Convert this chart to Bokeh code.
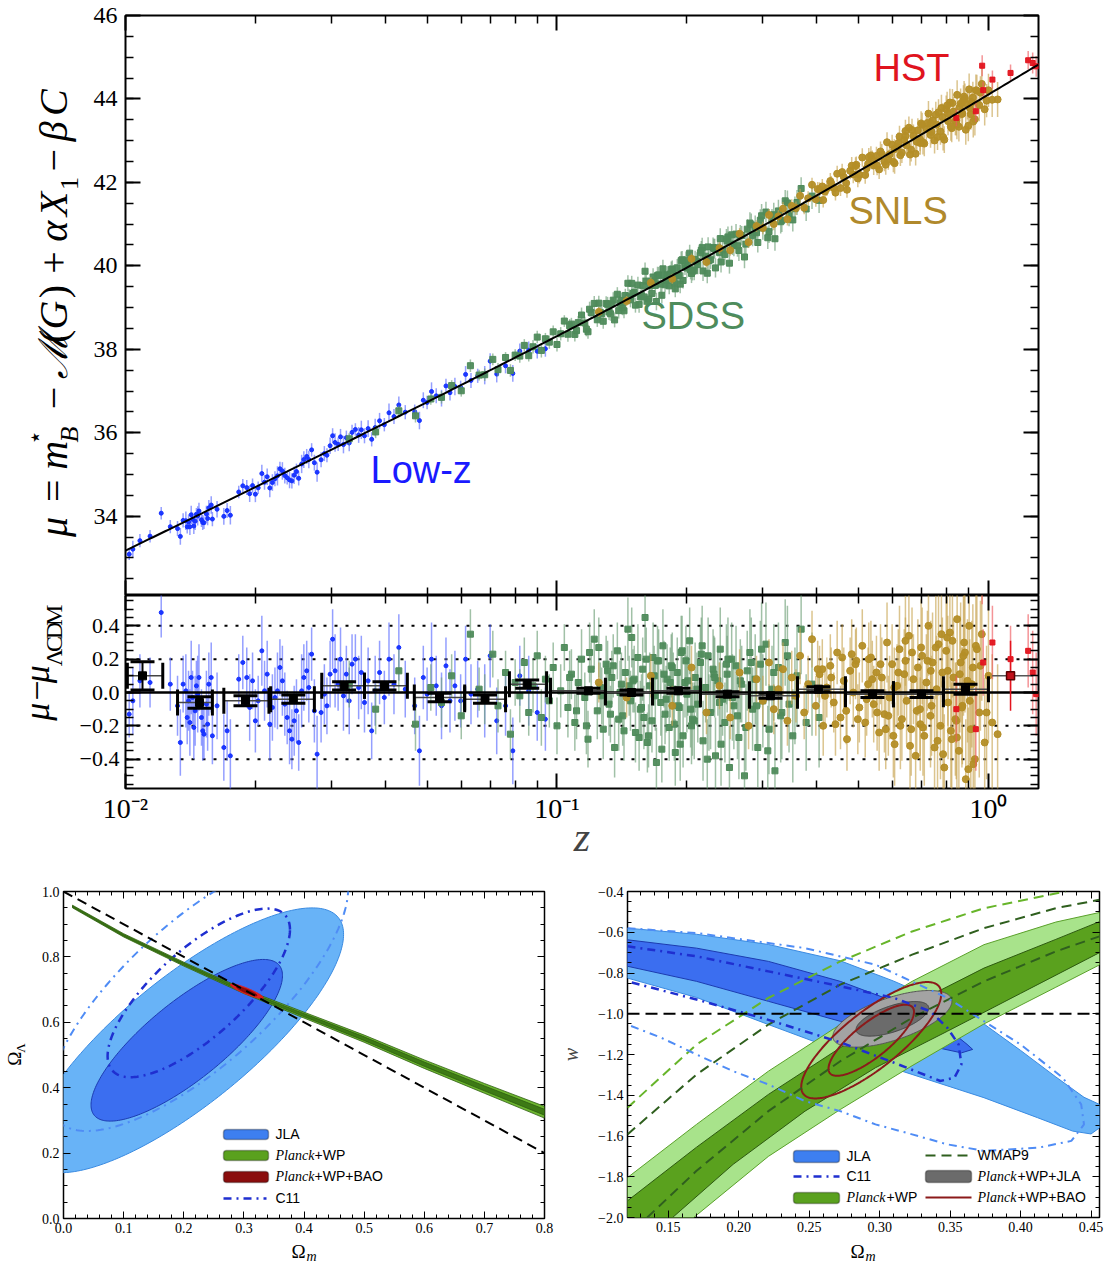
import numpy as np
from bokeh.plotting import figure
from bokeh.models import (Range1d, FixedTicker, LinearAxis, CustomJSTickFormatter,
                          Label, Span, BoxAnnotation, ColumnDataSource)
from bokeh.layouts import column, row
from bokeh.embed import file_html
from bokeh.resources import INLINE

SERIF = "Liberation Serif"
SANS = "Liberation Sans"

# ------------------------------------------------------------------ data
# Hubble-diagram residuals (mu - mu_LCDM) per survey
lowz_z = [0.0102, 0.0104, 0.0108, 0.0114, 0.0121, 0.0132, 0.0134, 0.0136, 0.0138, 0.0139,
          0.0140, 0.0141, 0.0142, 0.0143, 0.0144, 0.0145, 0.0146, 0.0147, 0.0148, 0.0150,
          0.0151, 0.0152, 0.0154, 0.0155, 0.0156, 0.0158, 0.0159, 0.0169, 0.0172, 0.0175,
          0.0187, 0.0191, 0.0194, 0.0197, 0.0200, 0.0203, 0.0207, 0.0210, 0.0213, 0.0216,
          0.0219, 0.0222, 0.0225, 0.0228, 0.0231, 0.0234, 0.0237, 0.0240, 0.0243, 0.0246,
          0.0249, 0.0252, 0.0256, 0.0259, 0.0263, 0.0266, 0.0270, 0.0274, 0.0278, 0.0289,
          0.0293, 0.0298, 0.0302, 0.0306, 0.0311, 0.0315, 0.0320, 0.0325, 0.0330, 0.0335,
          0.0341, 0.0347, 0.0352, 0.0358, 0.0365, 0.0372, 0.0379, 0.0388, 0.0398, 0.0408,
          0.0419, 0.0430, 0.0468, 0.0480, 0.0490, 0.0500, 0.0512, 0.0525, 0.0540, 0.0553,
          0.0565, 0.0580, 0.0598, 0.0614, 0.0632, 0.0655, 0.0680, 0.0700, 0.0725, 0.0760,
          0.0790, 0.0820, 0.0860, 0.0900, 0.0940, 0.0127, 0.0163, 0.0183, 0.0284, 0.0445]
lowz_res = [-0.13, -0.05, 0.07, 0.06, 0.48, -0.08, -0.30, 0.05, 0.01, -0.15,
            -0.05, -0.18, 0.09, -0.03, -0.21, -0.11, 0.04, -0.01, 0.09, -0.15,
            -0.23, -0.25, -0.07, -0.19, 0.05, 0.09, -0.26, -0.33, -0.23, -0.38,
            0.18, 0.09, -0.09, 0.07, -0.17, -0.05, 0.25, 0.01, 0.11, -0.19,
            -0.09, -0.03, 0.01, 0.15, 0.07, -0.07, -0.15, -0.23, -0.28, -0.17,
            -0.11, -0.30, 0.01, 0.09, 0.13, 0.03, 0.23, -0.11, -0.37, -0.01,
            -0.08, 0.11, 0.32, 0.13, 0.05, 0.20, -0.02, 0.11, -0.05, 0.17,
            0.20, 0.03, 0.12, -0.06, 0.07, -0.23, 0.01, 0.12, -0.03, 0.20,
            0.05, 0.27, -0.08, -0.35, 0.09, -0.01, 0.20, 0.04, -0.08, 0.16,
            -0.05, 0.04, -0.05, 0.20, -0.01, 0.02, -0.05, 0.22, -0.17, -0.08,
            -0.35, 0.10, 0.01, -0.12, -0.16, 0.05, -0.08, 0.08, -0.12, 0.02]
lowz_err = [0.14, 0.20, 0.16, 0.15, 0.15, 0.18, 0.20, 0.17, 0.22, 0.16,
            0.18, 0.20, 0.22, 0.16, 0.19, 0.21, 0.15, 0.23, 0.20, 0.17,
            0.18, 0.15, 0.20, 0.16, 0.19, 0.21, 0.17, 0.20, 0.18, 0.22,
            0.16, 0.18, 0.20, 0.17, 0.19, 0.15, 0.21, 0.18, 0.20, 0.22,
            0.20, 0.18, 0.23, 0.17, 0.21, 0.19, 0.16, 0.20, 0.18, 0.21,
            0.19, 0.17, 0.22, 0.20, 0.18, 0.21, 0.16, 0.19, 0.23, 0.18,
            0.17, 0.20, 0.18, 0.22, 0.16, 0.19, 0.21, 0.17, 0.20, 0.18,
            0.15, 0.19, 0.22, 0.18, 0.20, 0.17, 0.21, 0.19, 0.16, 0.22,
            0.18, 0.20, 0.17, 0.21, 0.19, 0.16, 0.22, 0.18, 0.20, 0.17,
            0.19, 0.21, 0.16, 0.20, 0.18, 0.17, 0.22, 0.19, 0.20, 0.18,
            0.20, 0.18, 0.21, 0.17, 0.19, 0.16, 0.20, 0.15, 0.18, 0.17]

sdss_z = [0.033, 0.038, 0.043, 0.047, 0.051, 0.054, 0.057, 0.060, 0.063, 0.066,
          0.068, 0.071, 0.073, 0.076, 0.078, 0.080, 0.082, 0.084, 0.086, 0.088,
          0.090, 0.092, 0.094, 0.096, 0.098, 0.100, 0.102, 0.104, 0.106, 0.108,
          0.110, 0.112, 0.114, 0.116, 0.118, 0.120, 0.122, 0.124, 0.126, 0.128,
          0.130, 0.132, 0.134, 0.136, 0.138, 0.140, 0.142, 0.144, 0.146, 0.148,
          0.150, 0.152, 0.154, 0.156, 0.158, 0.160, 0.162, 0.164, 0.166, 0.168,
          0.170, 0.172, 0.174, 0.176, 0.178, 0.180, 0.182, 0.184, 0.186, 0.188,
          0.190, 0.192, 0.194, 0.196, 0.198, 0.200, 0.203, 0.206, 0.209, 0.212,
          0.215, 0.218, 0.221, 0.224, 0.227, 0.230, 0.233, 0.236, 0.239, 0.242,
          0.245, 0.248, 0.251, 0.254, 0.257, 0.260, 0.264, 0.268, 0.272, 0.276,
          0.280, 0.284, 0.288, 0.292, 0.296, 0.300, 0.305, 0.310, 0.315, 0.320,
          0.326, 0.332, 0.338, 0.345, 0.352, 0.360, 0.368, 0.378, 0.390, 0.405,
          0.107, 0.117, 0.125, 0.133, 0.141, 0.149, 0.157, 0.163, 0.171, 0.179,
          0.185, 0.193, 0.201, 0.208, 0.216, 0.223, 0.231, 0.238, 0.249, 0.262,
          0.111, 0.119, 0.127, 0.135, 0.143, 0.151, 0.159, 0.167, 0.175, 0.183,
          0.191, 0.199, 0.205, 0.211, 0.217, 0.225, 0.232, 0.240, 0.247, 0.255,
          0.131, 0.139, 0.147, 0.155, 0.161, 0.169, 0.177, 0.187, 0.195, 0.204,
          0.266, 0.274, 0.282, 0.290, 0.298, 0.308, 0.318, 0.330, 0.342, 0.356]
sdss_res = [0.05, -0.10, 0.13, -0.19, 0.03, -0.06, 0.10, -0.14, 0.35, 0.02,
            -0.04, 0.23, -0.08, 0.12, -0.25, 0.06, -0.02, 0.18, -0.12, 0.04,
            0.22, -0.15, 0.08, -0.05, 0.15, -0.20, 0.01, 0.27, -0.09, 0.11,
            -0.18, 0.06, 0.20, -0.03, -0.28, 0.14, 0.32, -0.11, 0.03, -0.22,
            0.17, -0.07, 0.09, -0.33, 0.25, 0.00, -0.14, 0.12, 0.38, -0.05,
            0.07, -0.24, 0.21, -0.10, 0.14, 0.45, -0.30, 0.04, -0.17, 0.10,
            -0.42, 0.19, -0.06, 0.28, -0.13, 0.08, -0.21, 0.16, 0.02, -0.36,
            0.12, -0.09, 0.24, -0.26, 0.06, -0.01, 0.31, -0.16, 0.09, -0.07,
            0.18, -0.29, 0.03, 0.22, -0.12, 0.14, -0.38, 0.07, 0.26, -0.04,
            -0.18, 0.11, -0.45, 0.20, -0.08, 0.16, -0.27, 0.05, -0.50, 0.13,
            0.24, -0.10, 0.08, -0.33, 0.17, -0.05, 0.29, -0.22, 0.02, -0.47,
            0.15, -0.12, 0.30, -0.07, -0.26, 0.10, 0.38, -0.18, 0.05, -0.15,
            0.09, -0.20, 0.27, -0.13, 0.05, 0.33, -0.09, -0.26, 0.19, -0.04,
            0.15, -0.31, 0.07, -0.17, 0.23, -0.40, 0.11, -0.06, 0.20, -0.14,
            -0.11, 0.24, -0.02, 0.16, -0.23, 0.08, -0.15, 0.21, -0.34, 0.06,
            -0.08, 0.19, -0.20, 0.02, 0.28, -0.12, 0.09, -0.31, 0.17, -0.03,
            0.13, -0.16, 0.04, -0.27, 0.20, -0.02, 0.11, -0.19, 0.25, -0.10,
            0.07, -0.21, 0.18, -0.08, 0.26, -0.35, 0.12, -0.14, 0.22, -0.02]
sdss_err = [0.14, 0.15, 0.13, 0.16, 0.14, 0.15, 0.13, 0.14, 0.15, 0.13,
            0.15, 0.14, 0.16, 0.13, 0.15, 0.14, 0.16, 0.15, 0.14, 0.16,
            0.15, 0.17, 0.14, 0.16, 0.15, 0.17, 0.16, 0.14, 0.18, 0.15,
            0.17, 0.16, 0.18, 0.15, 0.17, 0.16, 0.18, 0.17, 0.15, 0.18,
            0.17, 0.19, 0.16, 0.18, 0.17, 0.19, 0.18, 0.16, 0.19, 0.18,
            0.19, 0.18, 0.20, 0.17, 0.19, 0.21, 0.18, 0.20, 0.19, 0.18,
            0.21, 0.19, 0.20, 0.22, 0.18, 0.21, 0.20, 0.19, 0.22, 0.20,
            0.21, 0.20, 0.22, 0.19, 0.21, 0.23, 0.20, 0.22, 0.21, 0.23,
            0.22, 0.24, 0.21, 0.23, 0.22, 0.24, 0.23, 0.21, 0.25, 0.22,
            0.24, 0.23, 0.25, 0.22, 0.26, 0.24, 0.25, 0.23, 0.27, 0.24,
            0.26, 0.25, 0.27, 0.24, 0.26, 0.28, 0.25, 0.27, 0.26, 0.29,
            0.27, 0.28, 0.26, 0.29, 0.28, 0.30, 0.27, 0.29, 0.31, 0.30,
            0.16, 0.17, 0.18, 0.17, 0.19, 0.18, 0.20, 0.19, 0.21, 0.20,
            0.21, 0.22, 0.21, 0.23, 0.22, 0.24, 0.23, 0.24, 0.25, 0.26,
            0.17, 0.18, 0.17, 0.19, 0.18, 0.20, 0.19, 0.21, 0.20, 0.21,
            0.22, 0.21, 0.23, 0.22, 0.24, 0.23, 0.24, 0.25, 0.24, 0.26,
            0.18, 0.19, 0.18, 0.20, 0.19, 0.21, 0.20, 0.22, 0.21, 0.23,
            0.25, 0.26, 0.27, 0.26, 0.28, 0.27, 0.29, 0.28, 0.30, 0.29]

snls_z = [0.125, 0.145, 0.165, 0.185, 0.205, 0.222, 0.238, 0.252, 0.265, 0.278,
          0.290, 0.300, 0.310, 0.318, 0.326, 0.334, 0.342, 0.350, 0.358, 0.366,
          0.374, 0.382, 0.390, 0.398, 0.406, 0.414, 0.422, 0.430, 0.438, 0.446,
          0.454, 0.462, 0.470, 0.478, 0.486, 0.494, 0.502, 0.510, 0.518, 0.526,
          0.534, 0.542, 0.550, 0.558, 0.566, 0.574, 0.582, 0.590, 0.598, 0.606,
          0.614, 0.622, 0.630, 0.638, 0.646, 0.654, 0.662, 0.670, 0.678, 0.686,
          0.694, 0.702, 0.710, 0.718, 0.726, 0.734, 0.742, 0.750, 0.758, 0.766,
          0.774, 0.782, 0.790, 0.798, 0.806, 0.814, 0.822, 0.830, 0.838, 0.846,
          0.854, 0.862, 0.870, 0.878, 0.886, 0.894, 0.902, 0.910, 0.920, 0.930,
          0.940, 0.952, 0.965, 0.980, 1.000, 1.020, 1.050, 0.412, 0.468, 0.528,
          0.586, 0.642, 0.705, 0.755, 0.805, 0.845, 0.875, 0.905, 0.605, 0.695,
          0.432, 0.492, 0.552, 0.625, 0.665, 0.735, 0.785, 0.825, 0.868, 0.915,
          0.402, 0.442, 0.482, 0.522, 0.562, 0.602, 0.642, 0.682, 0.722, 0.762,
          0.802, 0.842, 0.882, 0.922, 0.958, 0.418, 0.458, 0.498, 0.538, 0.578,
          0.618, 0.658, 0.698, 0.738, 0.778, 0.818, 0.858, 0.898, 0.935, 0.990]
snls_res = [0.06, -0.03, 0.10, -0.08, 0.15, -0.12, 0.04, -0.15, 0.12, -0.20,
            0.08, -0.05, 0.18, -0.10, 0.02, 0.14, -0.17, 0.09, -0.02, 0.22,
            -0.12, 0.05, 0.32, -0.08, 0.11, -0.20, 0.03, 0.16, -0.06, 0.24,
            -0.15, 0.07, -0.28, 0.13, 0.00, 0.19, -0.09, 0.28, -0.18, 0.05,
            0.21, -0.07, 0.12, -0.24, 0.09, -0.13, 0.30, -0.03, 0.17, -0.31,
            0.04, 0.26, -0.16, 0.11, -0.05, 0.34, -0.22, 0.08, -0.38, 0.15,
            -0.10, 0.22, -0.26, 0.06, 0.40, -0.14, 0.18, -0.33, 0.02, 0.29,
            -0.20, 0.12, -0.45, 0.25, -0.06, 0.36, -0.28, 0.09, -0.16, 0.44,
            -0.35, 0.18, -0.08, 0.30, -0.52, 0.07, 0.40, -0.22, 0.15, -0.40,
            0.26, -0.12, 0.35, -0.30, 0.10, -0.18, -0.25, 0.14, -0.11, 0.20,
            -0.14, 0.19, -0.21, 0.27, 0.13, -0.27, 0.22, -0.05, 0.03, -0.19,
            0.09, 0.17, -0.12, -0.20, 0.24, 0.13, -0.37, 0.31, -0.09, 0.05,
            0.14, -0.19, 0.23, -0.04, 0.17, -0.26, 0.31, -0.11, 0.19, -0.29,
            0.33, -0.17, 0.24, -0.43, 0.16, -0.02, 0.21, -0.16, 0.08, -0.22,
            0.12, -0.32, 0.27, -0.08, 0.35, -0.23, 0.11, -0.46, 0.28, -0.12]
snls_err = [0.12, 0.12, 0.13, 0.12, 0.13, 0.13, 0.14, 0.13, 0.14, 0.14,
            0.14, 0.15, 0.14, 0.15, 0.15, 0.16, 0.15, 0.16, 0.16, 0.17,
            0.16, 0.17, 0.17, 0.18, 0.17, 0.18, 0.18, 0.19, 0.18, 0.19,
            0.19, 0.20, 0.19, 0.20, 0.21, 0.20, 0.21, 0.22, 0.21, 0.22,
            0.22, 0.23, 0.22, 0.23, 0.24, 0.23, 0.24, 0.25, 0.24, 0.25,
            0.25, 0.26, 0.25, 0.27, 0.26, 0.27, 0.28, 0.27, 0.28, 0.29,
            0.28, 0.29, 0.30, 0.29, 0.30, 0.31, 0.30, 0.31, 0.32, 0.31,
            0.32, 0.33, 0.32, 0.33, 0.34, 0.33, 0.34, 0.35, 0.34, 0.35,
            0.35, 0.36, 0.35, 0.37, 0.36, 0.37, 0.38, 0.37, 0.38, 0.39,
            0.38, 0.39, 0.40, 0.39, 0.40, 0.41, 0.42, 0.18, 0.20, 0.22,
            0.24, 0.26, 0.29, 0.31, 0.33, 0.35, 0.36, 0.37, 0.24, 0.28,
            0.18, 0.21, 0.23, 0.26, 0.27, 0.30, 0.32, 0.34, 0.36, 0.38,
            0.17, 0.19, 0.21, 0.22, 0.24, 0.25, 0.27, 0.28, 0.30, 0.31,
            0.33, 0.35, 0.36, 0.38, 0.39, 0.18, 0.20, 0.21, 0.23, 0.24,
            0.26, 0.27, 0.29, 0.30, 0.32, 0.34, 0.35, 0.37, 0.38, 0.40]

hst_z = [0.8425, 0.9348, 0.9723, 0.9670, 1.0213, 1.1250, 1.2360, 1.2660, 1.2900]
hst_res = [-0.10, -0.22, 0.18, 0.78, 0.30, 0.20, 0.25, 0.12, -0.01]
hst_err = [0.20, 0.25, 0.20, 0.25, 0.22, 0.20, 0.22, 0.25, 0.25]

# binned residuals (black squares, last one = HST bin)
bin_z = [0.01095, 0.01484, 0.01897, 0.02449, 0.03211, 0.03983, 0.05343, 0.0681, 0.0853,
         0.1183, 0.1488, 0.1912, 0.2484, 0.3124, 0.4036, 0.5384, 0.6995, 0.8845, 1.125]
bin_lo = [0.0101, 0.0132, 0.0169, 0.0217, 0.0285, 0.0358, 0.0467, 0.0611, 0.0776,
          0.0966, 0.1295, 0.1665, 0.2150, 0.2793, 0.3609, 0.4662, 0.6023, 0.7864, 1.02]
bin_hi = [0.0122, 0.0159, 0.0215, 0.0274, 0.0358, 0.0450, 0.0611, 0.0760, 0.0946,
          0.1295, 0.1665, 0.2150, 0.2793, 0.3609, 0.4662, 0.6023, 0.7864, 1.0000, 1.27]
bin_res = [0.10, -0.06, -0.05, -0.04, 0.04, 0.04, -0.03, -0.04, 0.05,
           0.01, 0.00, 0.01, -0.01, -0.02, 0.02, -0.01, -0.01, 0.02, 0.10]
bin_err = [0.085, 0.035, 0.030, 0.025, 0.025, 0.025, 0.025, 0.025, 0.025,
           0.015, 0.015, 0.015, 0.015, 0.015, 0.015, 0.020, 0.020, 0.030, 0.21]

# ---- Omega_m / Omega_Lambda panel (Gaussian contour summaries)
jla_ol_center = [0.205, 0.545]
jla_ol_sigma = [0.105, 0.163]
jla_ol_rho = 0.80
c11_ol_center = [0.225, 0.69]
c11_ol_sigma = [0.100, 0.170]
c11_ol_rho = 0.75
bao_ol_center = [0.305, 0.695]
bao_ol_sigma = [0.011, 0.009]
bao_ol_rho = -0.90
planck_ol_om = [0.015, 0.1, 0.2, 0.3, 0.4, 0.5, 0.6, 0.7, 0.8]
planck_ol_mid = [0.954, 0.866, 0.778, 0.695, 0.622, 0.550, 0.472, 0.398, 0.325]
planck_ol_hw2 = [0.004, 0.005, 0.006, 0.007, 0.009, 0.011, 0.013, 0.015, 0.018]
planck_ol_hw1 = [0.002, 0.0025, 0.003, 0.0035, 0.0045, 0.0055, 0.0065, 0.0075, 0.009]
flat_om = [0.0, 0.8]
flat_ol = [1.0, 0.2]
DCHI2 = [2.30, 6.17]

# ---- Omega_m / w panel
jla_w2_up_om = [0.121, 0.17, 0.221, 0.272, 0.31, 0.348, 0.374, 0.40, 0.425, 0.445, 0.456]
jla_w2_up = [-0.58, -0.61, -0.66, -0.74, -0.84, -0.955, -1.05, -1.18, -1.31, -1.41, -1.445]
jla_w2_lo_om = [0.121, 0.17, 0.221, 0.272, 0.323, 0.374, 0.412, 0.437, 0.45, 0.456]
jla_w2_lo = [-0.825, -0.92, -1.053, -1.184, -1.298, -1.412, -1.51, -1.576, -1.59, -1.56]
jla_w1_up_om = [0.121, 0.17, 0.221, 0.272, 0.31, 0.336, 0.353, 0.362, 0.366]
jla_w1_up = [-0.637, -0.678, -0.743, -0.841, -0.939, -1.02, -1.10, -1.15, -1.175]
jla_w1_lo_om = [0.121, 0.17, 0.221, 0.272, 0.31, 0.336, 0.358, 0.366]
jla_w1_lo = [-0.767, -0.841, -0.939, -1.037, -1.118, -1.159, -1.192, -1.175]

planck_w2_up_om = [0.121, 0.170, 0.221, 0.272, 0.323, 0.374, 0.425, 0.456]
planck_w2_up = [-1.804, -1.543, -1.282, -1.053, -0.841, -0.661, -0.550, -0.503]
planck_w2_lo_om = [0.121, 0.168, 0.221, 0.272, 0.323, 0.374, 0.425, 0.456]
planck_w2_lo = [-2.0, -2.0, -1.70, -1.47, -1.255, -1.05, -0.87, -0.76]
planck_w1_up_om = [0.121, 0.170, 0.221, 0.272, 0.323, 0.374, 0.425, 0.456]
planck_w1_up = [-1.918, -1.655, -1.396, -1.167, -0.955, -0.776, -0.635, -0.548]
planck_w1_lo_om = [0.121, 0.153, 0.196, 0.247, 0.297, 0.348, 0.40, 0.456]
planck_w1_lo = [-2.0, -2.0, -1.739, -1.478, -1.265, -1.086, -0.90, -0.70]

wmap_1_up_om = [0.121, 0.17, 0.221, 0.272, 0.323, 0.374, 0.425, 0.456]
wmap_1_up = [-1.592, -1.298, -1.053, -0.857, -0.71, -0.58, -0.482, -0.441]
wmap_2_up_om = [0.121, 0.17, 0.221, 0.272, 0.323, 0.374, 0.432]
wmap_2_up = [-1.461, -1.151, -0.922, -0.743, -0.596, -0.482, -0.40]
wmap_1_lo_om = [0.135, 0.17, 0.221, 0.272, 0.323, 0.374, 0.425, 0.456]
wmap_1_lo = [-2.0, -1.771, -1.478, -1.233, -1.02, -0.841, -0.694, -0.62]

c11_w1_om = [0.121, 0.17, 0.221, 0.272, 0.31, 0.336, 0.348, 0.356, 0.358, 0.353,
             0.343, 0.31, 0.272, 0.221, 0.17, 0.121]
c11_w1 = [-0.669, -0.718, -0.792, -0.865, -0.922, -0.988, -1.069, -1.151, -1.249, -1.314,
          -1.33, -1.24, -1.14, -1.03, -0.93, -0.841]
c11_w2_om = [0.121, 0.17, 0.247, 0.297, 0.348, 0.40, 0.43, 0.443, 0.445, 0.436, 0.413,
             0.374, 0.348, 0.323, 0.297, 0.272, 0.247, 0.221, 0.196, 0.17, 0.145, 0.121]
c11_w2 = [-0.58, -0.604, -0.678, -0.759, -0.922, -1.151, -1.314, -1.445, -1.543, -1.624, -1.657,
          -1.673, -1.641, -1.592, -1.543, -1.478, -1.429, -1.347, -1.282, -1.2, -1.118, -1.053]

comb_w_center = [0.309, -1.025]
comb_w_sigma = [0.017, 0.056]
comb_w_rho = 0.62
bao_w_center = [0.294, -1.13]
bao_w_sigma = [0.020, 0.115]
bao_w_rho = 0.80
w_lcdm = -1.0

# ------------------------------------------------------------------ helpers
def mu_lcdm(z, om=0.295, h0=70.0):
    z = np.asarray(z, dtype=float)
    grid = np.linspace(0.0, 1.5, 6001)
    inv_e = 1.0 / np.sqrt(om * (1 + grid) ** 3 + 1 - om)
    dc = np.concatenate([[0.0], np.cumsum(0.5 * (inv_e[1:] + inv_e[:-1]) * np.diff(grid))])
    dl = (1 + z) * np.interp(z, grid, dc) * 299792.458 / h0
    return 5 * np.log10(dl) + 25


def gauss_contour(c, s, rho, k, n=240):
    cov = np.array([[s[0] ** 2, rho * s[0] * s[1]], [rho * s[0] * s[1], s[1] ** 2]])
    L = np.linalg.cholesky(cov)
    t = np.linspace(0, 2 * np.pi, n)
    pts = np.sqrt(k) * (L @ np.vstack([np.cos(t), np.sin(t)]))
    return pts[0] + c[0], pts[1] + c[1]


def base_fig(**kw):
    p = figure(output_backend="svg", toolbar_location=None, **kw)
    p.grid.visible = False
    p.outline_line_color = "black"
    p.outline_line_width = 2
    p.outline_line_alpha = 1.0
    p.background_fill_color = "white"
    p.border_fill_color = "white"
    return p


def label_fig(w, h, x0, y0):
    """blank strip whose data units are the page pixels (y grows downwards)"""
    p = figure(width=w, height=h, x_range=Range1d(x0, x0 + w), y_range=Range1d(y0 + h, y0),
               min_border=0, x_axis_location=None, y_axis_location=None,
               output_backend="svg", toolbar_location=None)
    p.grid.visible = False
    p.outline_line_color = None
    p.background_fill_color = "white"
    p.border_fill_color = "white"
    return p


def set_axis(ax, ticks, minor, code=None, size="22px", tin=15, tmin=8, lw=2, standoff=8):
    ax.ticker = FixedTicker(ticks=ticks, minor_ticks=minor)
    ax.axis_line_color = None
    ax.major_tick_in = tin
    ax.major_tick_out = 0
    ax.minor_tick_in = tmin
    ax.minor_tick_out = 0
    ax.major_tick_line_width = lw
    ax.minor_tick_line_width = max(1, lw * 0.75)
    ax.major_tick_line_color = "black"
    ax.minor_tick_line_color = "black"
    if code is None:
        ax.formatter = CustomJSTickFormatter(code="return ''")
        ax.major_label_text_font_size = "0px"
        ax.major_label_standoff = 0
    else:
        ax.formatter = CustomJSTickFormatter(code=code)
        ax.major_label_text_font = SERIF
        ax.major_label_text_font_size = size
        ax.major_label_text_color = "black"
        ax.major_label_standoff = standoff


def mirror(p, xt, xm, yt, ym, **kw):
    ra = LinearAxis()
    p.add_layout(ra, "right")
    set_axis(ra, yt, ym, None, **kw)
    ta = LinearAxis()
    p.add_layout(ta, "above")
    set_axis(ta, xt, xm, None, **kw)


IDENT = lambda v: v
BASE_SHIFT = 0.37  # Bokeh draws an "alphabetic" label this many em lower than asked


def add_text(p, fx, fy, px, py, text, size, font=SANS, style="normal", color="black",
             angle=0.0, align="left"):
    off = BASE_SHIFT * size
    if angle == 0.0:
        py = py - off
    else:
        px = px - off
    p.add_layout(Label(x=fx(px), y=fy(py), text=text, text_font=font,
                       text_font_size="%dpx" % size, text_font_style=style,
                       text_color=color, angle=angle, text_align=align,
                       text_baseline="alphabetic"))


MINUS = "return tick.toFixed(%d).replace('-', '\\u2212')"
R90 = np.pi / 2

# ------------------------------------------------------------------ top: Hubble diagram
ZMAX = 1.306
XR = Range1d(0.01, ZMAX)
LX0, LX1 = -2.0, np.log10(ZMAX)
fx_top = lambda px: 10 ** (LX0 + (px - 125) / 913 * (LX1 - LX0))
fy_top = lambda py: 32.1 + (595 - py) / 580 * 13.9

xt_log = [0.01, 0.1, 1.0]
xm_log = [k * 0.01 for k in range(2, 10)] + [k * 0.1 for k in range(2, 10)]
yt_top = [34, 36, 38, 40, 42, 44, 46]
ym_top = list(np.arange(32.5, 46.0, 0.5))

top = base_fig(x_axis_type="log", x_range=XR, y_range=Range1d(32.1, 46.0),
               frame_width=913, frame_height=580, min_border_left=37, min_border_right=74,
               min_border_top=15, min_border_bottom=0)
set_axis(top.xaxis[0], xt_log, xm_log, None)
set_axis(top.yaxis[0], yt_top, ym_top, "return tick.toFixed(0)", size="24px", standoff=8)
mirror(top, xt_log, xm_log, yt_top, ym_top)

res = base_fig(x_axis_type="log", x_range=XR, y_range=Range1d(-0.576, 0.582),
               frame_width=913, frame_height=193, min_border_left=49, min_border_right=74,
               min_border_top=0, min_border_bottom=80)
set_axis(res.xaxis[0], xt_log, xm_log,
         "return tick < 0.05 ? '10\\u207b\\u00b2' : (tick < 0.5 ? '10\\u207b\\u00b9' : '10\\u2070')",
         size="28px", standoff=4)
res.xaxis[0].axis_label = "z"
res.xaxis[0].axis_label_text_font = SERIF
res.xaxis[0].axis_label_text_font_style = "italic"
res.xaxis[0].axis_label_text_font_size = "42px"
res.xaxis[0].axis_label_standoff = -13
yt_res = [-0.4, -0.2, 0.0, 0.2, 0.4]
ym_res = list(np.round(np.arange(-0.55, 0.56, 0.05), 2))
set_axis(res.yaxis[0], yt_res, ym_res, MINUS % 1, size="22px", standoff=6)
mirror(res, xt_log, xm_log, yt_res, ym_res)

for lvl in [-0.4, -0.2, 0.2, 0.4]:
    res.add_layout(Span(location=lvl, dimension="width", line_color="black",
                        line_dash="3 8", line_width=2, level="underlay"))

surveys = [
    (lowz_z, lowz_res, lowz_err, "#1430ff", "#5b6bff", "circle", 4),
    (sdss_z, sdss_res, sdss_err, "#4f8b5b", "#6f9f78", "square", 6),
    (snls_z, snls_res, snls_err, "#b48e27", "#c8a452", "circle", 7),
    (hst_z, hst_res, hst_err, "#e3141e", "#ee5a60", "square", 5),
]
for zz, rr, ee, col, ecol, mk, sz in surveys:
    zz = np.array(zz); rr = np.array(rr); ee = np.array(ee)
    mu = mu_lcdm(zz) + rr
    src = ColumnDataSource(dict(z=zz, mu=mu, mlo=mu - ee, mhi=mu + ee,
                                r=rr, rlo=rr - ee, rhi=rr + ee))
    top.segment(x0="z", y0="mlo", x1="z", y1="mhi", source=src, line_color=ecol,
                line_alpha=0.65, line_width=1.5)
    top.scatter(x="z", y="mu", source=src, marker=mk, size=sz, fill_color=col,
                line_color=col, fill_alpha=0.95)
    res.segment(x0="z", y0="rlo", x1="z", y1="rhi", source=src, line_color=ecol,
                line_alpha=0.65, line_width=1.5)
    res.scatter(x="z", y="r", source=src, marker=mk, size=sz, fill_color=col,
                line_color=col, fill_alpha=0.95)

zline = np.logspace(-2, np.log10(ZMAX), 300)
top.line(zline, mu_lcdm(zline), line_color="black", line_width=2)
res.line([0.01, ZMAX], [0.0, 0.0], line_color="black", line_width=2.5)

# binned points
nb = len(bin_z) - 1
bsrc = ColumnDataSource(dict(z=bin_z[:nb], lo=bin_lo[:nb], hi=bin_hi[:nb], r=bin_res[:nb],
                             rlo=[r - e for r, e in zip(bin_res[:nb], bin_err[:nb])],
                             rhi=[r + e for r, e in zip(bin_res[:nb], bin_err[:nb])]))
res.segment(x0="lo", y0="r", x1="hi", y1="r", source=bsrc, line_color="#444444", line_width=1.5)
res.scatter(x="lo", y="r", source=bsrc, marker="dash", angle=np.pi / 2, size=26,
            line_color="black", line_width=3)
res.scatter(x="hi", y="r", source=bsrc, marker="dash", angle=np.pi / 2, size=26,
            line_color="black", line_width=3)
res.segment(x0="z", y0="rlo", x1="z", y1="rhi", source=bsrc, line_color="black", line_width=2)
res.scatter(x="z", y="rlo", source=bsrc, marker="dash", size=24, line_color="black", line_width=3)
res.scatter(x="z", y="rhi", source=bsrc, marker="dash", size=24, line_color="black", line_width=3)
res.scatter(x="z", y="r", source=bsrc, marker="square", size=8, fill_color="black", line_color="black")
res.segment(x0=[bin_lo[nb]], y0=[bin_res[nb]], x1=[bin_hi[nb]], y1=[bin_res[nb]],
            line_color="#555555", line_width=1.5)
res.segment(x0=[bin_z[nb]], y0=[bin_res[nb] - bin_err[nb]], x1=[bin_z[nb]],
            y1=[bin_res[nb] + bin_err[nb]], line_color="#e3141e", line_width=1.5)
res.scatter(x=[bin_z[nb]], y=[bin_res[nb]], marker="square", size=8,
            fill_color="#c0101a", line_color="#5a0000", line_width=1.5)

# survey names
add_text(top, fx_top, fy_top, 370, 484, "Low-z", 38, color="#1a1aff")
add_text(top, fx_top, fy_top, 641, 330, "SDSS", 38, color="#4e8c5c")
add_text(top, fx_top, fy_top, 848, 225, "SNLS", 38, color="#b0892b")
add_text(top, fx_top, fy_top, 873, 82, "HST", 38, color="#e0141e")

# y-axis title strips (page-pixel coordinates)
lab_top = label_fig(88, 595, 0, 0)
for txt, bx, by, sz, st in [("μ", 68, 535, 40, "italic"), ("=", 68, 499, 40, "normal"),
                            ("m", 68, 466, 40, "italic"), ("⋆", 43, 441, 24, "normal"),
                            ("B", 79, 438, 26, "italic"), ("−", 68, 404, 40, "normal"),
                            ("ℳ", 68, 373, 40, "italic"), ("(", 68, 336, 40, "normal"),
                            ("G", 68, 322, 40, "italic"), (")", 68, 290, 40, "normal"),
                            ("+", 68, 265, 40, "normal"), ("α", 68, 232, 40, "italic"),
                            ("X", 68, 206, 40, "italic"), ("1", 79, 179, 26, "normal"),
                            ("−", 68, 160, 40, "normal"), ("β", 68, 129, 40, "italic"),
                            ("C", 68, 103, 40, "italic")]:
    add_text(lab_top, IDENT, IDENT, bx, by, txt, sz, SERIF, st, angle=R90)

lab_res = label_fig(76, 273, 0, 595)
add_text(lab_res, IDENT, IDENT, 50, 772, "μ", 36, SERIF, "italic", angle=R90)
add_text(lab_res, IDENT, IDENT, 50, 744, "−", 36, SERIF, "normal", angle=R90)
add_text(lab_res, IDENT, IDENT, 50, 719, "μ", 36, SERIF, "italic", angle=R90)
for txt, by in [("Λ", 695), ("C", 675), ("D", 657), ("M", 638)]:
    add_text(lab_res, IDENT, IDENT, 62, by, txt, 24, SERIF, "normal", angle=R90)

# ------------------------------------------------------------------ bottom left
fx_bl = lambda px: (px - 63) / 481 * 0.8
fy_bl = lambda py: (1217 - py) / 327 * 1.0
bl = base_fig(x_range=Range1d(0, 0.8), y_range=Range1d(0, 1.0), frame_width=481, frame_height=327,
              min_border_left=28, min_border_right=13, min_border_top=22, min_border_bottom=25)
bl.outline_line_width = 1.5
xt_bl = list(np.round(np.arange(0, 0.81, 0.1), 2))
xm_bl = list(np.round(np.arange(0, 0.81, 0.02), 2))
yt_bl = list(np.round(np.arange(0, 1.01, 0.2), 2))
ym_bl = list(np.round(np.arange(0, 1.01, 0.05), 2))
set_axis(bl.xaxis[0], xt_bl, xm_bl, "return tick.toFixed(1)", size="14px", tin=7, tmin=4, lw=1, standoff=4)
set_axis(bl.yaxis[0], yt_bl, ym_bl, "return tick.toFixed(1)", size="14px", tin=7, tmin=4, lw=1, standoff=4)
mirror(bl, xt_bl, xm_bl, yt_bl, ym_bl, tin=7, tmin=4, lw=1)

x2, y2 = gauss_contour(jla_ol_center, jla_ol_sigma, jla_ol_rho, DCHI2[1])
bl.patch(x2, y2, fill_color="#68b3f7", line_color="#3a8ae0", line_width=1)
x1, y1 = gauss_contour(jla_ol_center, jla_ol_sigma, jla_ol_rho, DCHI2[0])
bl.patch(x1, y1, fill_color="#3b6ef0", line_color="#1c3bb0", line_width=1)
x2, y2 = gauss_contour(c11_ol_center, c11_ol_sigma, c11_ol_rho, DCHI2[1])
bl.line(x2, y2, line_color="#4f8cf5", line_width=2, line_dash="8 5 2 5")
x1, y1 = gauss_contour(c11_ol_center, c11_ol_sigma, c11_ol_rho, DCHI2[0])
bl.line(x1, y1, line_color="#1f2fd0", line_width=2.5, line_dash="8 5 2 5")
om = np.array(planck_ol_om); mid = np.array(planck_ol_mid)
for hw, fc in [(planck_ol_hw2, "#6db630"), (planck_ol_hw1, "#3d7a15")]:
    hw = np.array(hw)
    bl.patch(np.concatenate([om, om[::-1]]), np.concatenate([mid + hw, (mid - hw)[::-1]]),
             fill_color=fc, line_color="#2f5e12", line_width=0.8)
x2, y2 = gauss_contour(bao_ol_center, bao_ol_sigma, bao_ol_rho, DCHI2[1])
bl.patch(x2, y2, fill_color="#e02020", line_color="#e02020", line_width=1)
x1, y1 = gauss_contour(bao_ol_center, bao_ol_sigma, bao_ol_rho, DCHI2[0])
bl.patch(x1, y1, fill_color="#8a0d0d", line_color="#8a0d0d", line_width=1)
bl.line(flat_om, flat_ol, line_color="black", line_width=2, line_dash="10 6")

for (y0, y1c, fc) in [(1128, 1138, "#3d7ff0"), (1149, 1159, "#5aa11e"), (1170, 1181, "#8a0d0d")]:
    bl.add_layout(BoxAnnotation(left=fx_bl(223), right=fx_bl(268), top=fy_bl(y0), bottom=fy_bl(y1c),
                                fill_color=fc, fill_alpha=1, line_color="black", line_width=1.5,
                                border_radius=3))
bl.line([fx_bl(223), fx_bl(266)], [fy_bl(1197)] * 2, line_color="#1f2fd0", line_width=2.5,
        line_dash="8 5 2 5")
add_text(bl, fx_bl, fy_bl, 275, 1138, "JLA", 14)
add_text(bl, fx_bl, fy_bl, 275, 1159, "Planck", 14, SERIF, "italic")
add_text(bl, fx_bl, fy_bl, 314, 1159, "+WP", 14)
add_text(bl, fx_bl, fy_bl, 275, 1180, "Planck", 14, SERIF, "italic")
add_text(bl, fx_bl, fy_bl, 314, 1180, "+WP+BAO", 14)
add_text(bl, fx_bl, fy_bl, 275, 1202, "C11", 14)

lab_bly = label_fig(35, 374, 0, 868)
add_text(lab_bly, IDENT, IDENT, 21, 1068, "Ω", 19, SERIF, angle=R90)
add_text(lab_bly, IDENT, IDENT, 25, 1053, "Λ", 13, SERIF, angle=R90)

# ------------------------------------------------------------------ bottom right
fx_br = lambda px: 0.121 + (px - 625) / 472 * 0.335
fy_br = lambda py: -2.0 + (1217 - py) / 326 * 1.6
br = base_fig(x_range=Range1d(0.121, 0.456), y_range=Range1d(-2.0, -0.4), frame_width=472,
              frame_height=326, min_border_left=68, min_border_right=15, min_border_top=23,
              min_border_bottom=25)
br.outline_line_width = 1.5
xt_br = list(np.round(np.arange(0.15, 0.451, 0.05), 2))
xm_br = list(np.round(np.arange(0.13, 0.456, 0.01), 2))
yt_br = list(np.round(np.arange(-2.0, -0.39, 0.2), 2))
ym_br = list(np.round(np.arange(-2.0, -0.39, 0.05), 2))
set_axis(br.xaxis[0], xt_br, xm_br, "return tick.toFixed(2)", size="14px", tin=7, tmin=4, lw=1, standoff=4)
set_axis(br.yaxis[0], yt_br, ym_br, MINUS % 1, size="14px", tin=7, tmin=4, lw=1, standoff=4)
br.yaxis[0].axis_label = "w"
br.yaxis[0].axis_label_text_font = SERIF
br.yaxis[0].axis_label_text_font_style = "italic"
br.yaxis[0].axis_label_text_font_size = "20px"
br.yaxis[0].axis_label_standoff = 13
mirror(br, xt_br, xm_br, yt_br, ym_br, tin=7, tmin=4, lw=1)


def band(up_om, up, lo_om, lo):
    return list(up_om) + list(lo_om)[::-1], list(up) + list(lo)[::-1]


bx, by = band(jla_w2_up_om, jla_w2_up, jla_w2_lo_om, jla_w2_lo)
br.patch(bx, by, fill_color="#68b3f7", line_color="#3a8ae0", line_width=1)
bx, by = band(jla_w1_up_om, jla_w1_up, jla_w1_lo_om, jla_w1_lo)
br.patch(bx, by, fill_color="#3b6ef0", line_color="#1c3bb0", line_width=1)
bx, by = band(planck_w2_up_om, planck_w2_up, planck_w2_lo_om, planck_w2_lo)
br.patch(bx, by, fill_color="#a8e38b", line_color="#5aa02a", line_width=1)
bx, by = band(planck_w1_up_om, planck_w1_up, planck_w1_lo_om, planck_w1_lo)
br.patch(bx, by, fill_color="#5aa11e", line_color="#2d5a10", line_width=1)
x2, y2 = gauss_contour(comb_w_center, comb_w_sigma, comb_w_rho, DCHI2[1])
br.patch(x2, y2, fill_color="#a3a3a3", line_color="#555555", line_width=1)
x1, y1 = gauss_contour(comb_w_center, comb_w_sigma, comb_w_rho, DCHI2[0])
br.patch(x1, y1, fill_color="#6b6b6b", line_color="#444444", line_width=1)
x2, y2 = gauss_contour(bao_w_center, bao_w_sigma, bao_w_rho, DCHI2[1])
br.line(x2, y2, line_color="#8b1a1a", line_width=2)
x1, y1 = gauss_contour(bao_w_center, bao_w_sigma, bao_w_rho, DCHI2[0])
br.line(x1, y1, line_color="#8b1a1a", line_width=2)
br.line(wmap_2_up_om, wmap_2_up, line_color="#67b52a", line_width=2, line_dash="10 6")
br.line(wmap_1_up_om, wmap_1_up, line_color="#2f5f1e", line_width=2, line_dash="10 6")
br.line(wmap_1_lo_om, wmap_1_lo, line_color="#2f5f1e", line_width=2, line_dash="10 6")
br.line(c11_w2_om, c11_w2, line_color="#4f8cf5", line_width=2, line_dash="8 5 2 5")
br.line(c11_w1_om, c11_w1, line_color="#1f2fd0", line_width=2.5, line_dash="8 5 2 5")
br.add_layout(Span(location=w_lcdm, dimension="width", line_color="black", line_width=2,
                   line_dash="12 6"))

for (x0, y0, y1c, fc) in [(791, 1150, 1162, "#3d7ff0"), (791, 1192, 1203, "#5aa11e"),
                          (923, 1170, 1182, "#6b6b6b")]:
    br.add_layout(BoxAnnotation(left=fx_br(x0), right=fx_br(x0 + 46), top=fy_br(y0),
                                bottom=fy_br(y1c), fill_color=fc, fill_alpha=1, line_color="black",
                                line_width=1.5, border_radius=3))
br.line([fx_br(791), fx_br(837)], [fy_br(1176)] * 2, line_color="#1f2fd0", line_width=2.5,
        line_dash="8 5 2 5")
br.line([fx_br(923), fx_br(969)], [fy_br(1155)] * 2, line_color="#2f5f1e", line_width=2,
        line_dash="10 6")
br.line([fx_br(923), fx_br(969)], [fy_br(1197)] * 2, line_color="#8b1a1a", line_width=2)
add_text(br, fx_br, fy_br, 844, 1161, "JLA", 14)
add_text(br, fx_br, fy_br, 844, 1181, "C11", 14)
add_text(br, fx_br, fy_br, 844, 1202, "Planck", 14, SERIF, "italic")
add_text(br, fx_br, fy_br, 884, 1202, "+WP", 14)
add_text(br, fx_br, fy_br, 975, 1160, "WMAP9", 14)
add_text(br, fx_br, fy_br, 975, 1181, "Planck", 14, SERIF, "italic")
add_text(br, fx_br, fy_br, 1015, 1181, "+WP+JLA", 14)
add_text(br, fx_br, fy_br, 975, 1202, "Planck", 14, SERIF, "italic")
add_text(br, fx_br, fy_br, 1015, 1202, "+WP+BAO", 14)

lab_bot = label_fig(1112, 25, 0, 1242)
add_text(lab_bot, IDENT, IDENT, 291, 1258, "Ω", 19, SERIF)
add_text(lab_bot, IDENT, IDENT, 306, 1261, "m", 14, SERIF, "italic")
add_text(lab_bot, IDENT, IDENT, 850, 1258, "Ω", 19, SERIF)
add_text(lab_bot, IDENT, IDENT, 865, 1261, "m", 14, SERIF, "italic")

layout = column(row(lab_top, top, spacing=0),
                row(lab_res, res, spacing=0),
                row(lab_bly, bl, br, spacing=0),
                lab_bot, spacing=0)
open("out.html", "w").write(file_html(layout, INLINE))
